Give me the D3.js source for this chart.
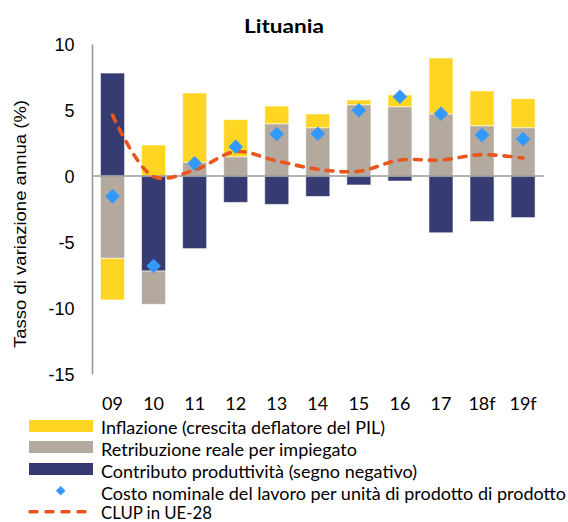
<!DOCTYPE html>
<html>
<head>
<meta charset="utf-8">
<script src="https://cdn.jsdelivr.net/npm/d3@7"></script>
<style>
  html, body { margin: 0; padding: 0; background: #fff; }
  svg { display: block; }
</style>
</head>
<body>
<svg id="chart" width="568" height="522"></svg>
<script>
// Lituania: scomposizione della crescita del costo nominale del lavoro per unità di prodotto
const categories = ["09", "10", "11", "12", "13", "14", "15", "16", "17", "18f", "19f"];
const inflazione = [-3.15, 2.35, 5.25, 2.81, 1.34, 1.04, 0.36, 0.89, 4.24, 2.63, 2.2];
const retribuzioneReale = [-6.24, -2.52, 1.04, 1.46, 3.96, 3.66, 5.4, 5.25, 4.7, 3.81, 3.66];
const contributoProduttivita = [7.8, -7.2, -5.5, -2.0, -2.15, -1.55, -0.68, -0.38, -4.3, -3.45, -3.15];
const clup = [-1.54, -6.82, 0.96, 2.22, 3.18, 3.2, 4.98, 6.0, 4.72, 3.1, 2.8];
const clupUE28 = [4.62, -0.05, 0.45, 1.84, 1.14, 0.51, 0.36, 1.21, 1.21, 1.62, 1.36];
const yTicks = [10, 5, 0, -5, -10, -15];

const legendLabels = [
  "Inflazione (crescita deflatore del PIL)",
  "Retribuzione reale per impiegato",
  "Contributo produttività (segno negativo)",
  "Costo nominale del lavoro per unità di prodotto di prodotto",
  "CLUP in UE-28"
];

const colors = {
  infl: "#FFD524",
  real: "#B4A99F",
  prod: "#363B71",
  diamond: "#3399FF",
  line: "#E9561D",
  axis: "#9A9A9A"
};

const svg = d3.select("#chart");

const x = d3.scaleBand()
  .domain(categories)
  .range([92, 543.6])
  .paddingInner(0.415)
  .paddingOuter(0.2075);

const y = d3.scaleLinear().domain([-15, 10]).range([374, 44]);

// stacked components: productivity closest to zero, then real pay, then inflation
const rows = categories.map((c, i) => ({
  cat: c,
  prod: contributoProduttivita[i],
  real: retribuzioneReale[i],
  infl: inflazione[i]
}));
const keys = ["prod", "real", "infl"];
const stacked = d3.stack().keys(keys).offset(d3.stackOffsetDiverging)(rows);

svg.append("g")
  .selectAll("g")
  .data(stacked)
  .join("g")
  .attr("fill", d => colors[d.key])
  .selectAll("rect")
  .data(d => d)
  .join("rect")
  .attr("x", d => x(d.data.cat))
  .attr("width", x.bandwidth())
  .attr("y", d => y(Math.max(d[0], d[1])))
  .attr("height", d => Math.abs(y(d[0]) - y(d[1])))
  .attr("stroke", "#ffffff")
  .attr("stroke-opacity", 0.55)
  .attr("stroke-width", 1);

// y axis line (no tick marks)
const yAxis = d3.axisLeft(y).tickValues(yTicks).tickSize(0).tickPadding(0)
  .tickFormat(d => String(d).replace("\u2212", "-"));
const gy = svg.append("g").attr("transform", "translate(92,0)").call(yAxis);
gy.select(".domain").attr("stroke", colors.axis).attr("stroke-width", 1.6);
gy.selectAll(".tick text")
  .attr("x", -17.5)
  .attr("dy", "0.36em")
  .attr("fill", "#000")
  .style("font-family", "'Liberation Sans', Arial, sans-serif")
  .style("font-size", "18px");

// zero line
svg.append("line")
  .attr("x1", 92).attr("x2", 543.6)
  .attr("y1", y(0)).attr("y2", y(0))
  .attr("stroke", colors.axis)
  .attr("stroke-width", 1.6);

// category labels
const xAxis = d3.axisBottom(x).tickSize(0).tickPadding(0);
const gx = svg.append("g").attr("transform", "translate(0,409.5)").call(xAxis);
gx.select(".domain").remove();
gx.selectAll(".tick text")
  .attr("y", 0)
  .attr("dy", 0)
  .attr("fill", "#000")
  .style("font-family", "Lato, 'Open Sans', sans-serif")
  .style("font-size", "18px");

// EU-28 unit labour cost line
const line = d3.line()
  .x((d, i) => x(categories[i]) + x.bandwidth() / 2)
  .y(d => y(d))
  .curve(d3.curveCatmullRom.alpha(0.5));

svg.append("path")
  .datum(clupUE28)
  .attr("d", line)
  .attr("fill", "none")
  .attr("stroke", colors.line)
  .attr("stroke-width", 3.6)
  .attr("stroke-linecap", "round")
  .attr("stroke-dasharray", "7,8");

// nominal unit labour cost diamonds
const diamond = r => `M0,${-r}L${r},0L0,${r}L${-r},0Z`;
svg.append("g")
  .selectAll("path")
  .data(clup)
  .join("path")
  .attr("transform", (d, i) => `translate(${x(categories[i]) + x.bandwidth() / 2},${y(d)})`)
  .attr("d", diamond(7.3))
  .attr("fill", colors.diamond);

// title
svg.append("text")
  .attr("x", 284)
  .attr("y", 33.3)
  .attr("text-anchor", "middle")
  .attr("textLength", 80)
  .attr("lengthAdjust", "spacingAndGlyphs")
  .style("font-family", "Lato, 'Liberation Sans', sans-serif")
  .style("font-weight", "bold")
  .style("font-size", "18px")
  .text("Lituania");

// y axis title
svg.append("text")
  .attr("transform", "translate(25.5,224) rotate(-90)")
  .attr("text-anchor", "middle")
  .attr("textLength", 248)
  .attr("lengthAdjust", "spacingAndGlyphs")
  .style("font-family", "'Liberation Sans', Arial, sans-serif")
  .style("font-size", "17px")
  .text("Tasso di variazione annua (%)");

// legend
const legendBaselines = [434, 455.5, 477.5, 499.5, 519];
const legendWidths = [284, 256, 316, 465, 111];
const legend = svg.append("g");

[["infl", 420], ["real", 441], ["prod", 463]].forEach(([k, top]) => {
  legend.append("rect")
    .attr("x", 29).attr("y", top)
    .attr("width", 64).attr("height", 12)
    .attr("fill", colors[k]);
});
legend.append("path")
  .attr("transform", "translate(60.7,490.7)")
  .attr("d", diamond(4.8))
  .attr("fill", colors.diamond);
legend.append("line")
  .attr("x1", 30).attr("x2", 92)
  .attr("y1", 511.7).attr("y2", 511.7)
  .attr("stroke", colors.line)
  .attr("stroke-width", 3.6)
  .attr("stroke-linecap", "round")
  .attr("stroke-dasharray", "7,9");

legend.selectAll("text")
  .data(legendLabels)
  .join("text")
  .attr("x", 101)
  .attr("y", (d, i) => legendBaselines[i])
  .attr("textLength", (d, i) => legendWidths[i])
  .attr("lengthAdjust", "spacingAndGlyphs")
  .style("font-family", "Lato, 'Open Sans', sans-serif")
  .style("font-size", "17px")
  .attr("fill", "#000")
  .text(d => d);
</script>
</body>
</html>
